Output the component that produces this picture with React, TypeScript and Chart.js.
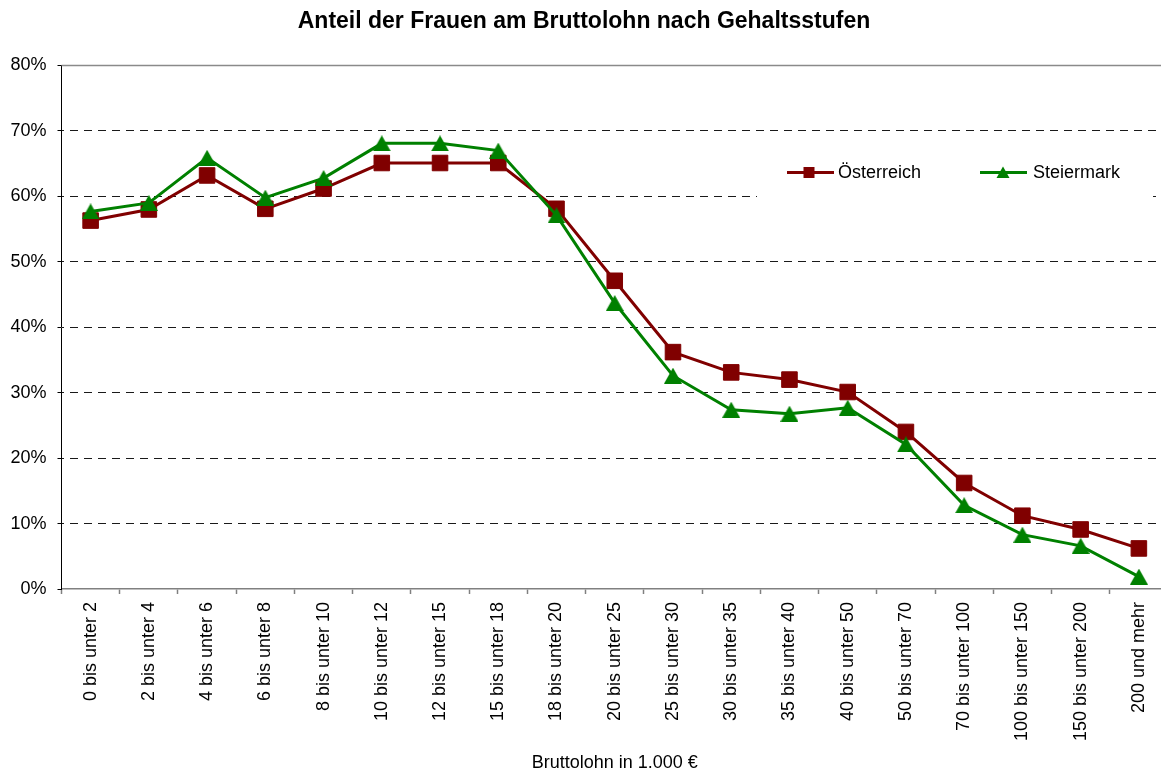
import React, { useEffect, useRef } from "react";
import { Chart, registerables } from "chart.js";

Chart.register(...registerables);

const categories = [
  "0 bis unter 2",
  "2 bis unter 4",
  "4 bis unter 6",
  "6 bis unter 8",
  "8 bis unter 10",
  "10 bis unter 12",
  "12 bis unter 15",
  "15 bis unter 18",
  "18 bis unter 20",
  "20 bis unter 25",
  "25 bis unter 30",
  "30 bis unter 35",
  "35 bis unter 40",
  "40 bis unter 50",
  "50 bis unter 70",
  "70 bis unter 100",
  "100 bis unter 150",
  "150 bis unter 200",
  "200 und mehr",
];

const oesterreich = [56.3, 58.0, 63.2, 58.1, 61.2, 65.1, 65.1, 65.1, 58.1, 47.1, 36.2, 33.1, 32.0, 30.1, 24.0, 16.2, 11.2, 9.1, 6.2];
const steiermark = [57.7, 59.0, 65.9, 59.8, 62.8, 68.1, 68.1, 67.0, 57.1, 43.7, 32.6, 27.4, 26.8, 27.7, 22.1, 12.8, 8.3, 6.6, 1.9];

const yTicks = [0, 10, 20, 30, 40, 50, 60, 70, 80];

const seriesNames = ["Österreich", "Steiermark"];
const RED = "#800000";
const GREEN = "#008000";

function makeTriangle(w: number, h: number, color: string) {
  const c = document.createElement("canvas");
  c.width = w;
  c.height = h;
  const ctx = c.getContext("2d")!;
  ctx.fillStyle = color;
  ctx.beginPath();
  ctx.moveTo(w / 2, 0);
  ctx.lineTo(w, h);
  ctx.lineTo(0, h);
  ctx.closePath();
  ctx.fill();
  return c;
}

const FONT = "'Liberation Sans', Arial, sans-serif";

export default function App() {
  const ref = useRef<HTMLCanvasElement | null>(null);

  useEffect(() => {
    if (!ref.current) return;
    const tri = makeTriangle(18, 16, GREEN);

    const topBorder = {
      id: "topBorder",
      beforeDatasetsDraw(chart: any) {
        const { ctx, chartArea } = chart;
        ctx.save();
        ctx.strokeStyle = "#8a8a8a";
        ctx.lineWidth = 1.5;
        ctx.beginPath();
        ctx.moveTo(chartArea.left, chartArea.top);
        ctx.lineTo(chartArea.right, chartArea.top);
        ctx.stroke();
        ctx.restore();
      },
    };

    const customLegend = {
      id: "customLegend",
      afterDatasetsDraw(chart: any) {
        const { ctx } = chart;
        ctx.save();
        ctx.fillStyle = "#ffffff";
        ctx.fillRect(757, 156, 396, 44);
        const y = 172.5;
        // Österreich
        ctx.strokeStyle = RED;
        ctx.lineWidth = 3;
        ctx.beginPath();
        ctx.moveTo(787, y);
        ctx.lineTo(834, y);
        ctx.stroke();
        ctx.fillStyle = RED;
        ctx.fillRect(809 - 5.5, y - 5.5, 11, 11);
        ctx.fillStyle = "#000";
        ctx.font = `18px ${FONT}`;
        ctx.textBaseline = "middle";
        ctx.textAlign = "left";
        ctx.fillText(seriesNames[0], 838, y + 1);
        // Steiermark
        ctx.strokeStyle = GREEN;
        ctx.beginPath();
        ctx.moveTo(980, y);
        ctx.lineTo(1027, y);
        ctx.stroke();
        ctx.fillStyle = GREEN;
        ctx.beginPath();
        ctx.moveTo(1003, y - 6);
        ctx.lineTo(1009.5, y + 5.5);
        ctx.lineTo(996.5, y + 5.5);
        ctx.closePath();
        ctx.fill();
        ctx.fillStyle = "#000";
        ctx.fillText(seriesNames[1], 1033, y + 1);
        ctx.restore();
      },
    };

    const chart = new Chart(ref.current, {
      type: "line",
      data: {
        labels: categories,
        datasets: [
          {
            label: seriesNames[0],
            data: oesterreich,
            borderColor: RED,
            backgroundColor: RED,
            borderWidth: 3,
            tension: 0,
            pointStyle: "rect",
            pointRadius: 11,
            pointBorderWidth: 1,
            pointBackgroundColor: RED,
            pointBorderColor: RED,
            order: 1,
          },
          {
            label: seriesNames[1],
            data: steiermark,
            borderColor: GREEN,
            backgroundColor: GREEN,
            borderWidth: 3,
            tension: 0,
            pointStyle: tri as any,
            pointRadius: 10,
            order: 0,
          },
        ],
      },
      options: {
        responsive: false,
        animation: false,
        layout: { padding: 0, autoPadding: false } as any,
        font: { family: FONT } as any,
        plugins: {
          legend: { display: false },
          tooltip: { enabled: false },
          title: {
            display: true,
            text: "Anteil der Frauen am Bruttolohn nach Gehaltsstufen",
            color: "#000",
            font: { family: FONT, size: 23, weight: "bold" },
            padding: { top: 8, bottom: 29.9 },
          },
        },
        scales: {
          x: {
            type: "category",
            offset: true,
            afterFit(scale: any) {
              scale.height = 182;
              scale.paddingLeft = 0;
              scale.paddingRight = 0;
            },
            grid: {
              display: true,
              offset: true,
              drawOnChartArea: false,
              drawTicks: true,
              tickLength: 5,
              tickColor: "#808080",
              tickWidth: 1.5,
            },
            border: { display: true, color: "#808080", width: 1.5 },
            ticks: {
              autoSkip: false,
              minRotation: 90,
              maxRotation: 90,
              padding: 8,
              color: "#000",
              font: { family: FONT, size: 18 },
            },
            title: {
              display: true,
              text: "Bruttolohn in 1.000 €",
              color: "#000",
              font: { family: FONT, size: 18, lineHeight: 1 },
              padding: { top: 0, bottom: -1 },
            },
          },
          y: {
            min: 0,
            max: 80,
            afterFit(scale: any) {
              scale.width = 61.5;
            },
            afterBuildTicks(scale: any) {
              scale.ticks = yTicks.map((v) => ({ value: v }));
            },
            grid: {
              drawTicks: true,
              tickLength: 4,
              tickColor: "#000",
              tickWidth: 1,
              color: (ctx: any) =>
                ctx.tick && (ctx.tick.value === 0 || ctx.tick.value === 80) ? "rgba(0,0,0,0)" : "#1a1a1a",
              lineWidth: 1,
            },
            border: { display: true, color: "#000", width: 1, dash: [8, 6], dashOffset: -8 },
            ticks: {
              padding: 11,
              color: "#000",
              font: { family: FONT, size: 18 },
              callback: (v: any) => `${v}%`,
            },
          },
        },
      },
      plugins: [topBorder, customLegend],
    });

    return () => chart.destroy();
  }, []);

  return (
    <div
      style={{
        position: "fixed",
        left: 0,
        top: 0,
        width: 1161,
        height: 771,
        overflow: "hidden",
        background: "#fff",
      }}
    >
      <canvas ref={ref} width={1168} height={771} style={{ display: "block" }} />
    </div>
  );
}
